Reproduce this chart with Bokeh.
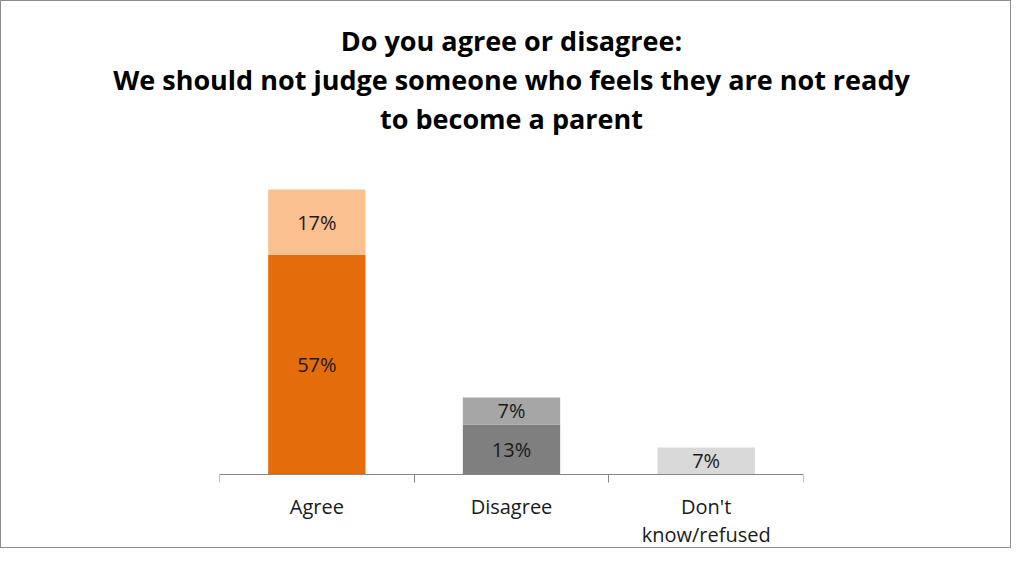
from bokeh.plotting import figure
from bokeh.models import ColumnDataSource, FixedTicker, Title, Range1d
from bokeh.core.properties import value
from bokeh.embed import file_html
from bokeh.resources import INLINE

# ---- data ----
categories = ["Agree", "Disagree", "Don't\nknow/refused"]
strong_vals = [57, 13, 7]          # lower (strong) segment
somewhat_vals = [17, 7, 0]         # upper (somewhat) segment
strong_colors = ["#E46C0A", "#7F7F7F", "#D9D9D9"]
somewhat_colors = ["#FAC090", "#A6A6A6", "#D9D9D9"]
title_lines = ["Do you agree or disagree:",
               "We should not judge someone who feels they are not ready",
               "to become a parent"]

FONT = "Open Sans"
centers = [2 * i + 1 for i in range(len(categories))]

lower = ColumnDataSource(dict(
    x=centers,
    bottom=[0] * len(strong_vals),
    top=strong_vals,
    mid=[v / 2 for v in strong_vals],
    color=strong_colors,
    label=[f"{v}%" for v in strong_vals],
))
idx = [i for i, v in enumerate(somewhat_vals) if v > 0]
upper = ColumnDataSource(dict(
    x=[centers[i] for i in idx],
    bottom=[strong_vals[i] for i in idx],
    top=[strong_vals[i] + somewhat_vals[i] for i in idx],
    mid=[strong_vals[i] + somewhat_vals[i] / 2 for i in idx],
    color=[somewhat_colors[i] for i in idx],
    label=[f"{somewhat_vals[i]}%" for i in idx],
))

p = figure(width=1011, height=548, output_backend="svg", toolbar_location=None,
           x_range=Range1d(0, 2 * len(categories)), y_range=Range1d(-19.5, 87.8),
           min_border_left=218, min_border_right=209, min_border_top=135,
           min_border_bottom=0,
           styles={"border": "1px solid #8c8c8c"})
p.outline_line_color = None
p.xgrid.visible = False
p.ygrid.visible = False
p.yaxis.visible = False
p.background_fill_color = "white"
p.border_fill_color = "white"

for src in (lower, upper):
    p.vbar(x="x", width=1.0, bottom="bottom", top="top", color="color",
           line_color=None, source=src)
    p.text(x="x", y="mid", text="label", text_align="center",
           text_baseline="middle", text_font=value(FONT),
           text_font_size="20px", text_color="#1a1a1a", source=src)

ax = p.xaxis[0]
ax.fixed_location = 0
ax.ticker = FixedTicker(ticks=centers, minor_ticks=list(range(0, 2 * len(categories) + 1, 2)))
ax.major_label_overrides = {c: lab for c, lab in zip(centers, categories)}
ax.major_tick_in = 0
ax.major_tick_out = 0
ax.minor_tick_in = 0
ax.minor_tick_out = 8
ax.minor_tick_line_color = "#868686"
ax.axis_line_color = "#868686"
ax.major_label_standoff = 11
ax.major_label_text_font = FONT
ax.major_label_text_font_size = "20px"
ax.major_label_text_color = "#1a1a1a"
ax.major_label_text_line_height = 1.02

for line in reversed(title_lines):
    p.add_layout(Title(text=line, align="center", text_font=FONT,
                       text_font_size="27px", text_font_style="bold",
                       text_color="black", standoff=0), "above")

open("out.html", "w").write(file_html(p, INLINE))
